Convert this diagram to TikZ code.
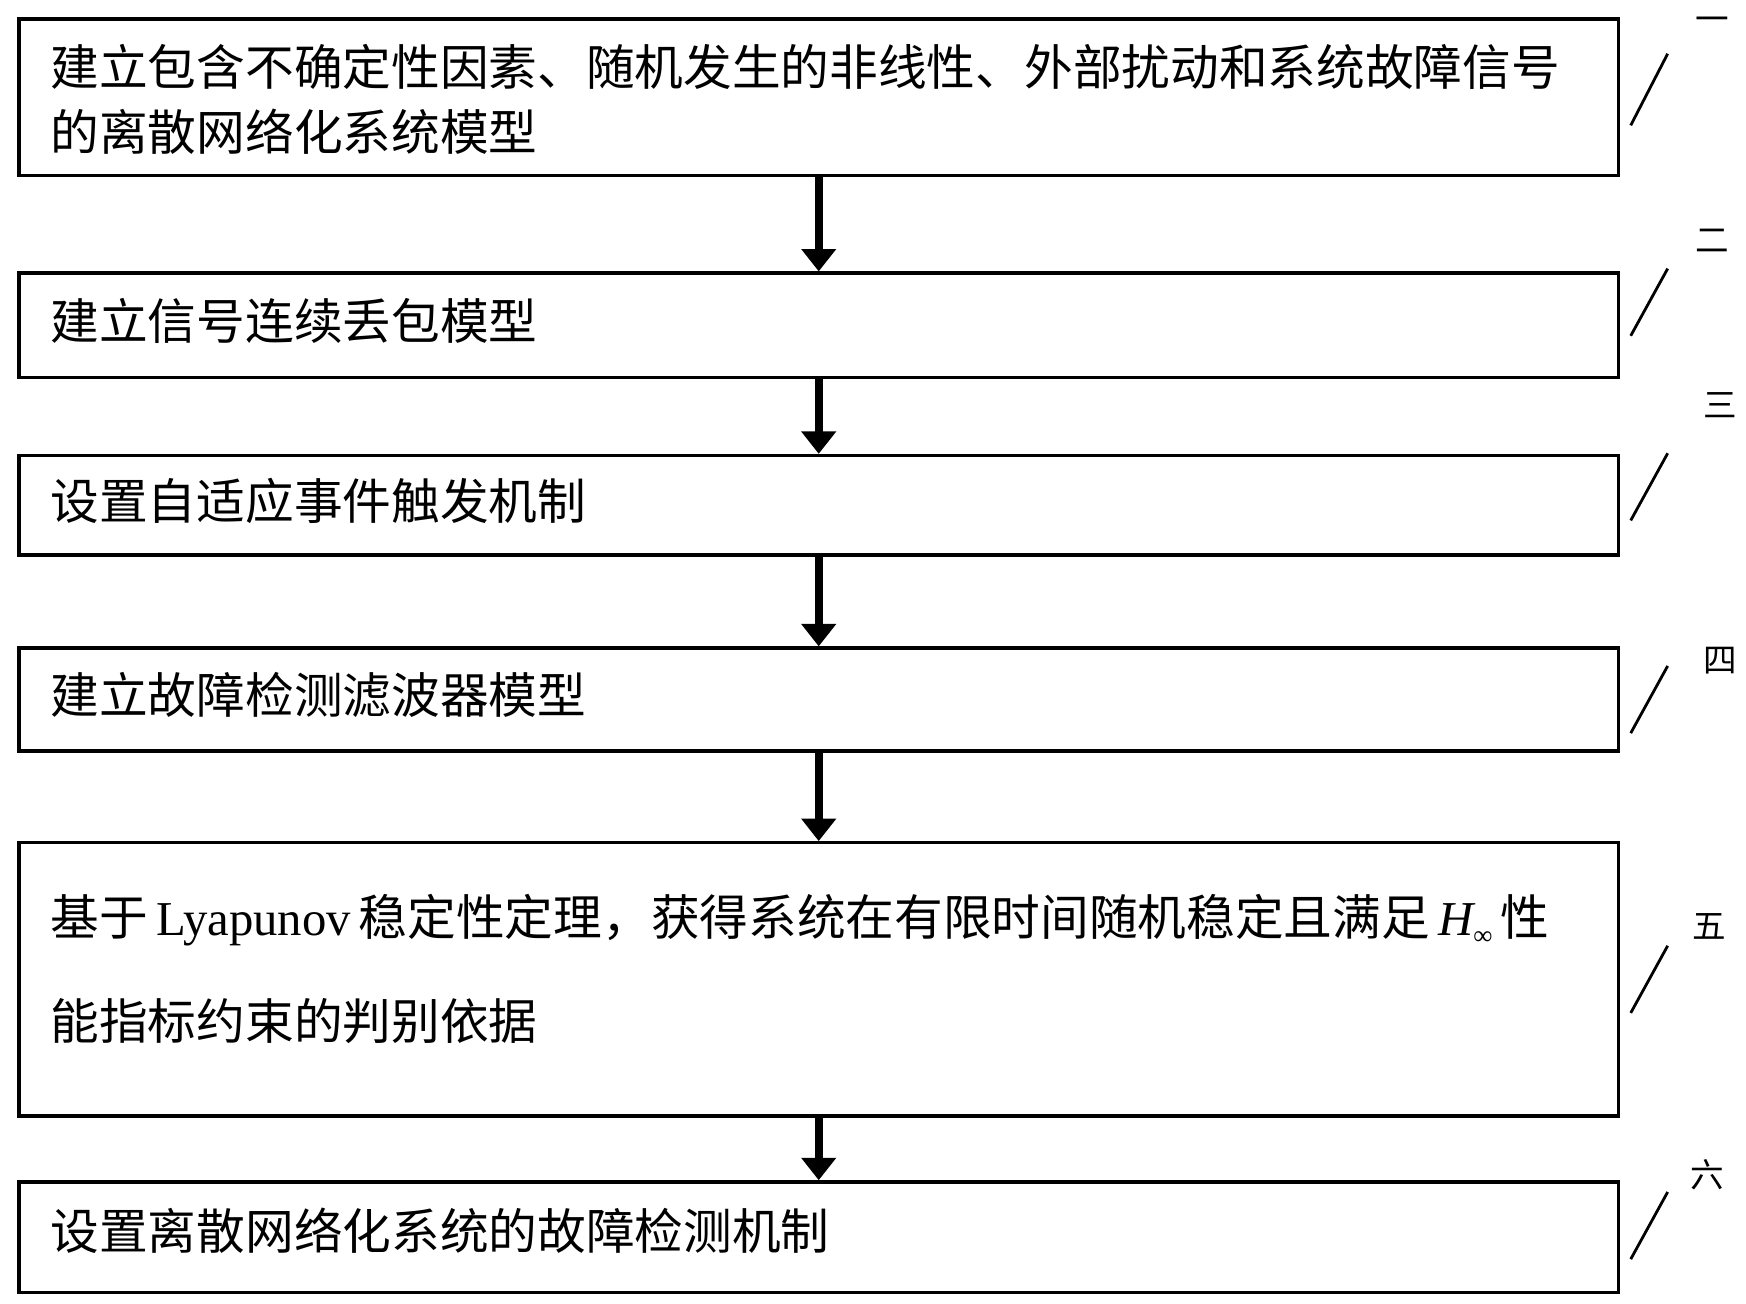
\documentclass[tikz,border=0pt]{standalone}
\usepackage{fontspec}
\setmainfont{Liberation Serif}
\newfontfamily\cjk{Noto Sans CJK SC}
\usetikzlibrary{arrows.meta}
\begin{document}
\begin{tikzpicture}[x=1pt,y=-1pt,
  box/.style={draw,line width=3pt,inner sep=0pt},
  txt/.style={anchor=west,inner sep=0pt,font=\cjk\fontsize{43.5}{48}\selectfont},
  num/.style={inner sep=0pt,font=\cjk\fontsize{30}{32}\selectfont},
  arr/.style={line width=7pt,-{Triangle[length=20pt,width=30pt]}},
  tick/.style={line width=2.5pt}]
\useasboundingbox (0,0) rectangle (1560,1165);
\node[box,minimum width=1429pt,minimum height=140pt,anchor=north west] (b1) at (15.5,15.5) {};
\node[box,minimum width=1429pt,minimum height=93pt,anchor=north west] (b2) at (15.5,242.5) {};
\node[box,minimum width=1429pt,minimum height=89pt,anchor=north west] (b3) at (15.5,405.5) {};
\node[box,minimum width=1429pt,minimum height=92pt,anchor=north west] (b4) at (15.5,577.5) {};
\node[box,minimum width=1429pt,minimum height=244pt,anchor=north west] (b5) at (15.5,751.5) {};
\node[box,minimum width=1429pt,minimum height=99pt,anchor=north west] (b6) at (15.5,1054.5) {};
\node[txt] (t1a) at (45,60) {建立包含不确定性因素、随机发生的非线性、外部扰动和系统故障信号};
\node[txt] (t1b) at (45,118) {的离散网络化系统模型};
\node[txt] (t2) at (45,287) {建立信号连续丢包模型};
\node[txt] (t3) at (45,448) {设置自适应事件触发机制};
\node[txt] (t4) at (45,621) {建立故障检测滤波器模型};
\node[txt] (t5a) at (45,822) {基于\,{\rmfamily Lyapunov}\,稳定性定理，获得系统在有限时间随机稳定且满足\,{\rmfamily\itshape H}\raisebox{-0.35ex}{\rmfamily\fontsize{24}{24}\selectfont ∞}\,性};
\node[txt] (t5b) at (45,912) {能指标约束的判别依据};
\node[txt] (t6) at (45,1100) {设置离散网络化系统的故障检测机制};
\foreach \a/\b in {b1/b2,b2/b3,b3/b4,b4/b5,b5/b6}
  \draw[arr] (\a.south) -- (\b.north);
\node[num] (n1) at (1530,22) {一};
\node[num] (n2) at (1530,215) {二};
\node[num] (n3) at (1537,362) {三};
\node[num] (n4) at (1537,590) {四};
\node[num] (n5) at (1527,828) {五};
\node[num] (n6) at (1525,1050) {六};
\coordinate (s1) at (1457,112); \coordinate (e1) at (1490,48);
\coordinate (s2) at (1457,300); \coordinate (e2) at (1490,240);
\coordinate (s3) at (1457,465); \coordinate (e3) at (1490,405);
\coordinate (s4) at (1457,655); \coordinate (e4) at (1490,595);
\coordinate (s5) at (1457,905); \coordinate (e5) at (1490,845);
\coordinate (s6) at (1457,1125); \coordinate (e6) at (1490,1065);
\foreach \i in {1,...,6} \draw[tick] (s\i) -- (e\i);
\end{tikzpicture}
\end{document}
